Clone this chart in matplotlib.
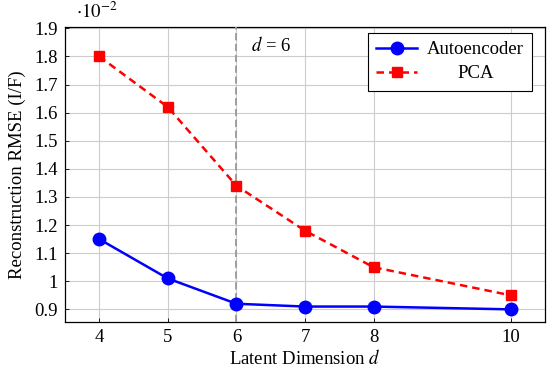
import matplotlib
matplotlib.use("Agg")
import matplotlib.pyplot as plt

latent_dims = [4, 5, 6, 7, 8, 10]
autoencoder_rmse = [1.15, 1.01, 0.92, 0.91, 0.91, 0.90]
pca_rmse = [1.80, 1.62, 1.34, 1.18, 1.05, 0.95]
y_ticks = [0.9, 1.0, 1.1, 1.2, 1.3, 1.4, 1.5, 1.6, 1.7, 1.8, 1.9]
y_tick_labels = ["0.9", "1", "1.1", "1.2", "1.3", "1.4", "1.5", "1.6", "1.7", "1.8", "1.9"]
chosen_d = 6

plt.rcParams["font.family"] = ["Liberation Serif", "DejaVu Serif"]
plt.rcParams["mathtext.fontset"] = "stix"
fs = 13.5

fig = plt.figure(figsize=(5.5, 3.74), dpi=100)
ax = fig.add_axes([0.118, 0.139, 0.873, 0.789])

ax.plot(latent_dims, autoencoder_rmse, color="blue", linewidth=1.8, marker="o",
        markersize=9, label="Autoencoder", zorder=4)
ax.plot(latent_dims, pca_rmse, color="red", linewidth=1.8, linestyle=(0, (3, 2)),
        marker="s", markersize=7, label="PCA", zorder=4)
ax.axvline(chosen_d, color="#999999", linestyle=(0, (4, 2)), linewidth=1.3, zorder=3)
ax.text(6.22, 1.84, r"$d$ = 6", fontsize=fs, va="center")

ax.set_xlim(3.5, 10.5)
ax.set_ylim(0.855, 1.905)
ax.set_xticks(latent_dims)
ax.set_yticks(y_ticks)
ax.set_yticklabels(y_tick_labels)
ax.tick_params(direction="in", length=3, labelsize=fs, width=0.6, pad=5)
ax.grid(color="#cccccc", linewidth=0.8)
ax.set_axisbelow(True)
for s in ax.spines.values():
    s.set_linewidth(0.9)

ax.set_xlabel(r"Latent Dimension $d$", fontsize=fs, labelpad=2)
ax.set_ylabel("Reconstruction RMSE (I/F)", fontsize=fs, labelpad=6)
fig.text(0.138, 0.967, r"$\cdot 10^{-2}$", fontsize=fs, ha="left", va="center")

leg = ax.legend(loc="upper right", fontsize=fs, fancybox=False, framealpha=1,
                edgecolor="black", borderpad=0.45, handlelength=2.2, labelspacing=0.35,
                handletextpad=0.5, borderaxespad=0, bbox_to_anchor=(0.973, 0.98))
leg.get_frame().set_linewidth(0.8)

# center the shorter label like the pgfplots legend
fig.canvas.draw()
widths = [t.get_window_extent().width for t in leg.get_texts()]
wmax = max(widths)
for t, w in zip(leg.get_texts(), widths):
    t.set_x((wmax - w) / 2)

fig.savefig("out.png", dpi=100)
